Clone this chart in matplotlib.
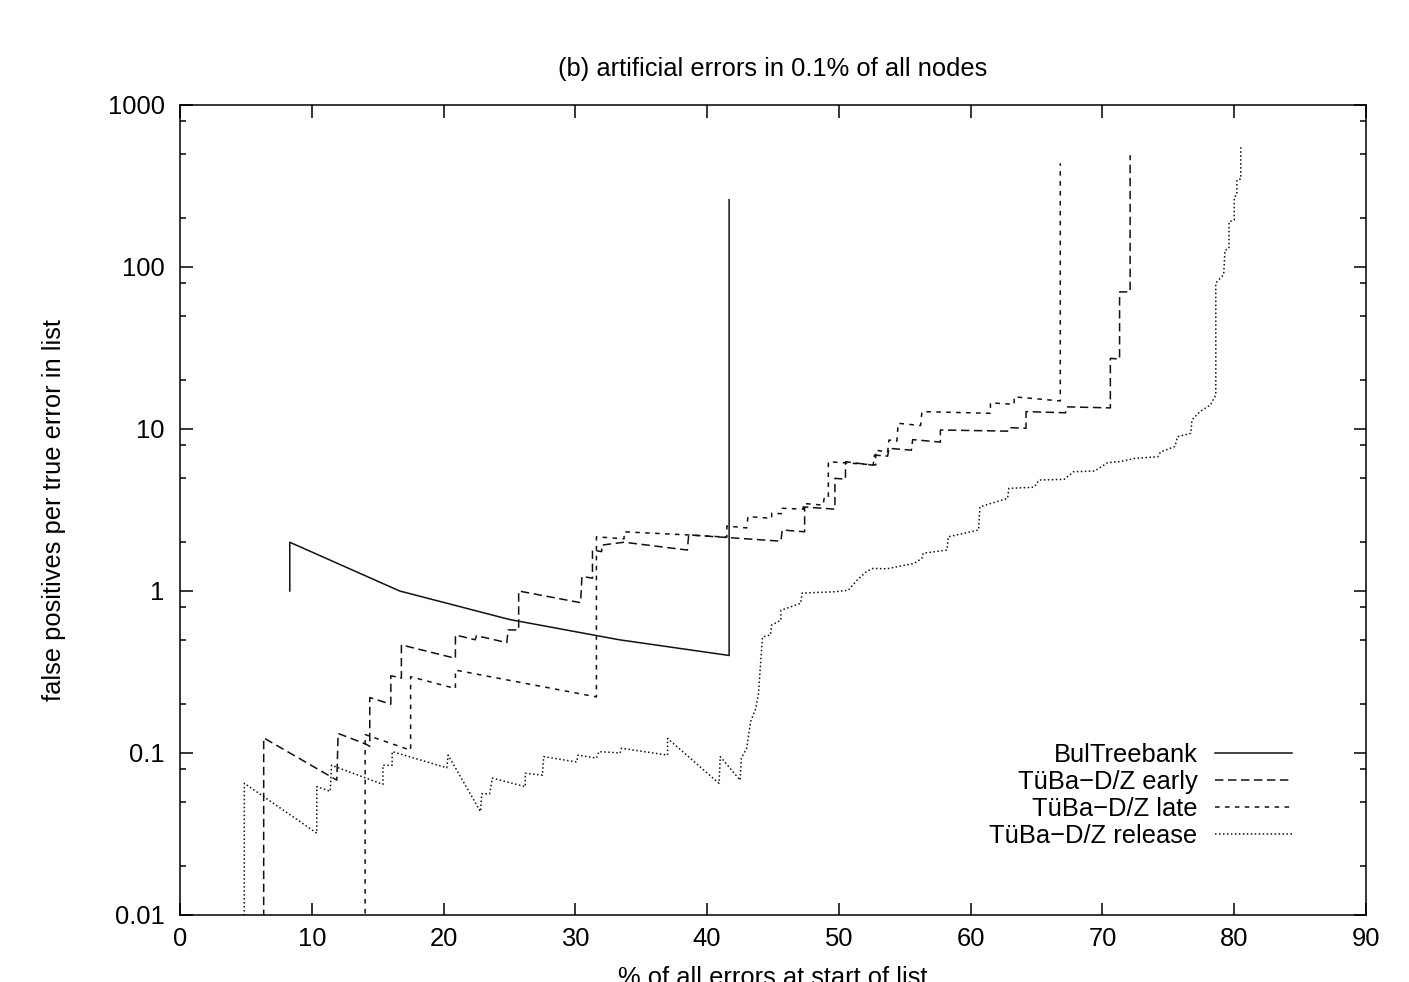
import matplotlib
matplotlib.use("Agg")
import matplotlib.pyplot as plt
from matplotlib.ticker import FixedLocator, FixedFormatter, LogLocator, NullFormatter

plt.rcParams['font.family'] = ['Liberation Sans', 'DejaVu Sans']

# ---- data ----
bul_x = [8.33, 8.33, 16.67, 25.0, 33.33, 41.67, 41.67]
bul_y = [1.0, 2.0, 1.0, 0.667, 0.5, 0.4, 260]

early_x = [6.35, 6.35, 11.9, 12.0, 14.05, 14.4, 14.4, 16.0, 16.0, 16.8, 16.8, 20.9, 20.9, 22.4, 22.5,
           24.8, 24.9, 25.7, 25.7, 30.4, 30.5, 31.3, 31.3, 32.0, 32.0, 33.7, 38.5, 38.6, 45.6, 45.7,
           47.4, 47.4, 49.7, 49.7, 50.5, 50.5, 52.6, 52.7, 53.7, 53.8, 55.5, 55.6, 57.7, 57.7, 62.8,
           62.9, 64.2, 64.2, 67.2, 67.3, 70.6, 70.6, 71.3, 71.3, 72.1, 72.1]
early_y = [0.001, 0.124, 0.068, 0.132, 0.114, 0.11, 0.22, 0.2, 0.30, 0.29, 0.465, 0.384, 0.535, 0.5, 0.53,
           0.48, 0.575, 0.575, 1.0, 0.847, 1.23, 1.2, 1.79, 1.75, 1.92, 2.0, 1.79, 2.22, 2.03, 2.38,
           2.32, 3.3, 3.2, 4.96, 4.9, 6.28, 5.98, 6.9, 6.8, 7.6, 7.4, 8.6, 8.3, 9.86, 9.7,
           10.2, 10.1, 12.8, 12.6, 13.7, 13.5, 27.3, 27.0, 70.2, 70.2, 490]

late_x = [14.05, 14.05, 17.5, 17.5, 20.9, 20.9, 31.6, 31.6, 33.7, 33.7, 38.5, 41.5, 41.5, 43.0, 43.1,
          44.9, 44.9, 45.7, 45.7, 47.3, 47.3, 48.8, 48.9, 49.2, 49.2, 52.8, 52.8, 53.7, 53.8, 54.4,
          54.5, 56.2, 56.3, 61.5, 61.5, 63.3, 63.3, 66.8, 66.8]
late_y = [0.001, 0.13, 0.104, 0.296, 0.25, 0.325, 0.222, 2.16, 2.1, 2.32, 2.22, 2.15, 2.52, 2.45, 2.88,
          2.81, 3.02, 3.0, 3.24, 3.2, 3.47, 3.39, 3.82, 3.8, 6.28, 6.0, 7.4, 7.2, 8.55, 8.4,
          10.85, 10.5, 12.8, 12.5, 14.5, 14.2, 15.8, 14.9, 437]

release_x = [4.88, 4.88, 10.38, 10.38, 11.4, 11.5, 15.4, 15.4, 16.1, 16.1, 20.25, 20.35, 22.8, 22.9, 23.5,
             23.7, 26.2, 26.2, 27.5, 27.6, 30.1, 30.2, 31.6, 31.8, 33.4, 33.5, 37.0, 37.0, 40.9, 41.0,
             42.5, 42.6, 43.0, 43.3, 43.7, 43.9, 44.2, 44.8, 44.9, 45.6, 45.6, 47.1, 47.2, 49.7, 50.7,
             51.4, 52.1, 52.6, 53.6, 55.7, 56.3, 56.4, 58.2, 58.3, 60.6, 60.7, 62.8, 62.9, 64.8, 65.2,
             67.1, 67.8, 69.4, 70.4, 71.4, 72.4, 74.2, 74.4, 75.5, 75.7, 76.7, 76.8, 77.4, 78.2, 78.6,
             78.6, 79.2, 79.3, 79.6, 79.6, 80.0, 80.0, 80.2, 80.2, 80.5, 80.5]
release_y = [0.001, 0.065, 0.032, 0.062, 0.058, 0.084, 0.064, 0.084, 0.084, 0.102, 0.081, 0.097, 0.0435, 0.056, 0.056,
             0.07, 0.062, 0.075, 0.073, 0.095, 0.088, 0.097, 0.093, 0.102, 0.1, 0.107, 0.097, 0.123, 0.065, 0.095,
             0.068, 0.093, 0.107, 0.156, 0.189, 0.234, 0.52, 0.535, 0.617, 0.66, 0.76, 0.84, 0.97, 0.99, 1.01,
             1.17, 1.32, 1.38, 1.37, 1.48, 1.59, 1.71, 1.79, 2.16, 2.38, 3.31, 3.73, 4.3, 4.37, 4.84,
             4.89, 5.45, 5.5, 6.2, 6.3, 6.58, 6.74, 7.2, 7.8, 8.97, 9.4, 11.4, 12.8, 14.1, 16.2,
             79.5, 90, 127, 130, 190, 195, 270, 280, 344, 350, 550]

labels = ['BulTreebank', 'TüBa\u2212D/Z early', 'TüBa\u2212D/Z late', 'TüBa\u2212D/Z release']
xticks = [0, 10, 20, 30, 40, 50, 60, 70, 80, 90]
yticks = [0.01, 0.1, 1, 10, 100, 1000]
ytick_labels = ['0.01', '0.1', '1', '10', '100', '1000']
title = '(b) artificial errors in 0.1% of all nodes'
xlabel = '% of all errors at start of list'
ylabel = 'false positives per true error in list'

W, H = 1409, 982
fig = plt.figure(figsize=(W / 100, H / 100), dpi=100)
L, R, T, B = 180, 1366, 105, 915
ax = fig.add_axes([L / W, 1 - B / H, (R - L) / W, (B - T) / H])

col = '#111111'
lw = 1.1
ax.plot(bul_x, bul_y, color=col, lw=lw, ls='-', label=labels[0])
ax.plot(early_x, early_y, color=col, lw=lw, ls=(0, (5.5, 3.0)), label=labels[1])
ax.plot(late_x, late_y, color=col, lw=lw, ls=(0, (3.0, 3.5)), label=labels[2])
ax.plot(release_x, release_y, color=col, lw=lw, ls=(0, (1.0, 1.6)), label=labels[3])

ax.set_yscale('log')
ax.set_xlim(0, 90)
ax.set_ylim(0.01, 1000)
ax.xaxis.set_major_locator(FixedLocator(xticks))
ax.yaxis.set_major_locator(FixedLocator(yticks))
ax.yaxis.set_major_formatter(FixedFormatter(ytick_labels))
ax.yaxis.set_minor_locator(LogLocator(base=10, subs=(2, 5, 8)))
ax.yaxis.set_minor_formatter(NullFormatter())
ax.tick_params(which='both', direction='in', top=True, right=True, labelsize=18.4, width=1.1, colors='black')
ax.tick_params(which='major', length=9, pad=9)
ax.tick_params(axis='y', which='major', pad=11)
ax.tick_params(which='minor', length=4.3)
for s in ax.spines.values():
    s.set_linewidth(1.1)

fig.text(773 / W, 1 - 69 / H, title, ha='center', va='center', fontsize=18.4)
fig.text(773 / W, -3 / H, xlabel, ha='center', va='baseline', fontsize=18.4)
fig.text(54 / W, 1 - 510 / H, ylabel, ha='center', va='center', rotation=90, fontsize=18.4)

leg = ax.legend(loc='upper right', bbox_to_anchor=(1292 / W, 1 - 743 / H), bbox_transform=fig.transFigure,
                frameon=False, markerfirst=False, fontsize=18.4, handlelength=3.0, handletextpad=0.7,
                labelspacing=0.12, borderpad=0, borderaxespad=0)
for t in leg.get_texts():
    t.set_ha('right')

fig.savefig('out.png', dpi=100)
